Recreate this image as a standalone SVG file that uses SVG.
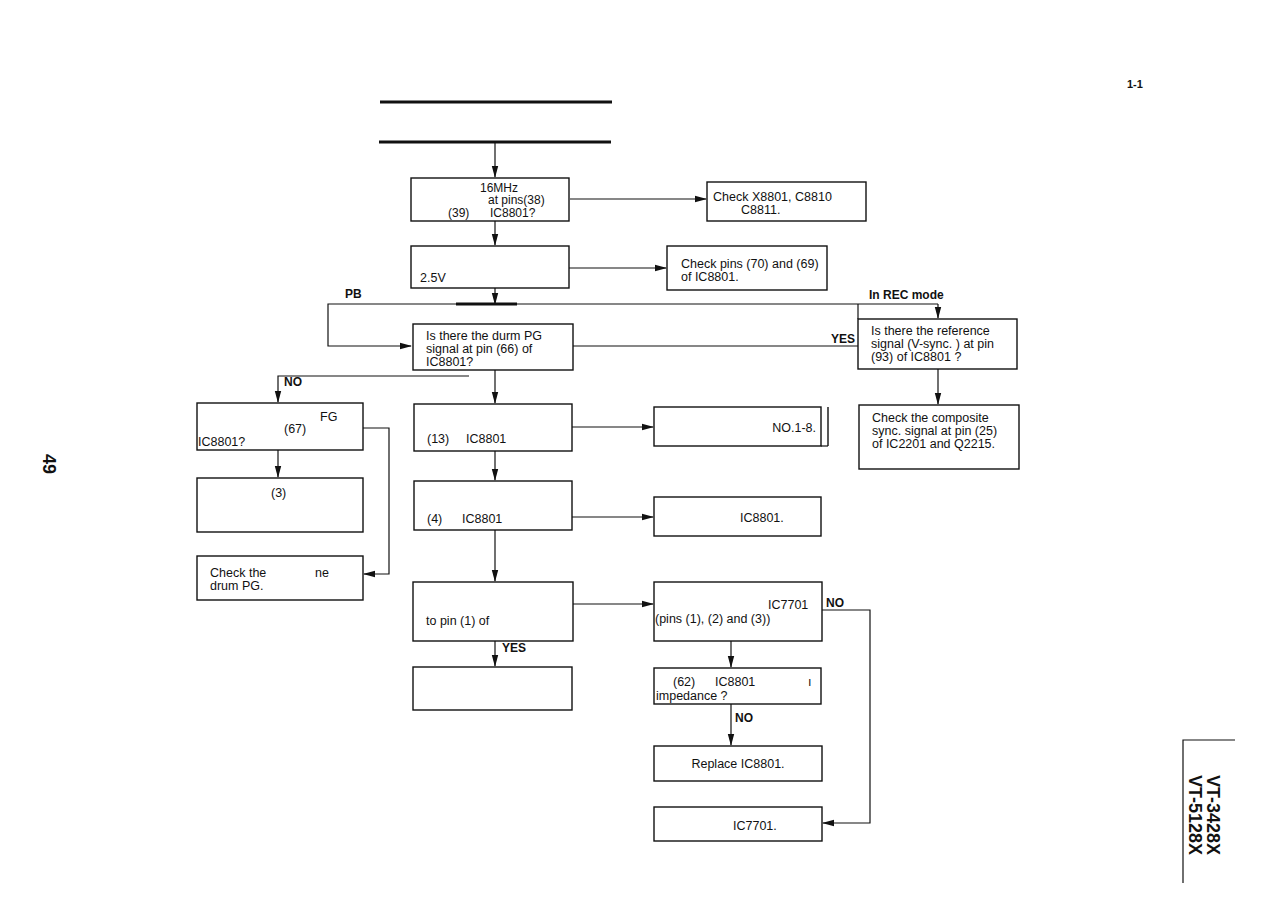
<svg xmlns="http://www.w3.org/2000/svg" width="1275" height="906" viewBox="0 0 1275 906">
<defs>
<marker id="ah" viewBox="0 0 12 8" refX="11" refY="4" markerWidth="12" markerHeight="8" markerUnits="userSpaceOnUse" orient="auto">
<path d="M0,0.8 L12,4 L0,7.2 Z" fill="#111"/>
</marker>
<style>
.bx{fill:#fff;stroke:#111;stroke-width:1.4}
.ln{fill:none;stroke:#111;stroke-width:1.2}
.t{font-family:"Liberation Sans",Arial,sans-serif;font-size:12.5px;fill:#111}
.b{font-family:"Liberation Sans",Arial,sans-serif;font-size:12px;font-weight:bold;fill:#111}
.big{font-family:"Liberation Sans",Arial,sans-serif;font-size:18px;font-weight:bold;fill:#111}
</style>
</defs>
<rect width="1275" height="906" fill="#fff"/>

<g id="title">
<line x1="380" y1="102" x2="612" y2="102" stroke="#111" stroke-width="3"/>
<line x1="379" y1="142" x2="611" y2="142" stroke="#111" stroke-width="3"/>
</g>

<g id="connectors">
<line class="ln" x1="495" y1="143" x2="495" y2="177" marker-end="url(#ah)"/>
<line class="ln" x1="570" y1="199" x2="706" y2="199" marker-end="url(#ah)"/>
<line class="ln" x1="495" y1="221" x2="495" y2="245" marker-end="url(#ah)"/>
<line class="ln" x1="569" y1="268" x2="666" y2="268" stroke-width="2" marker-end="url(#ah)"/>
<line class="ln" x1="495" y1="288" x2="495" y2="304" stroke-width="1.6" marker-end="url(#ah)"/>
<line x1="456" y1="304" x2="517" y2="304" stroke="#111" stroke-width="3"/>
<polyline class="ln" points="938,304 328,304 328,346 411,346" stroke-width="1.6" marker-end="url(#ah)"/>
<line class="ln" x1="938" y1="304" x2="938" y2="318" marker-end="url(#ah)"/>
<line class="ln" x1="858" y1="304" x2="858" y2="319"/>
<line class="ln" x1="573" y1="346" x2="858" y2="346" stroke-width="1.8"/>
<line class="ln" x1="938" y1="369" x2="938" y2="404" marker-end="url(#ah)"/>
<polyline class="ln" points="469,376 278,376 278,402" marker-end="url(#ah)"/>
<line class="ln" x1="495" y1="370" x2="495" y2="403" stroke-width="2" marker-end="url(#ah)"/>
<polyline class="ln" points="363,428 389,428 389,574 364,574" stroke-width="1.6" marker-end="url(#ah)"/>
<line class="ln" x1="278" y1="450" x2="278" y2="477" marker-end="url(#ah)"/>
<line class="ln" x1="572" y1="427" x2="653" y2="427" marker-end="url(#ah)"/>
<line class="ln" x1="495" y1="451" x2="495" y2="480" marker-end="url(#ah)"/>
<line class="ln" x1="572" y1="517" x2="653" y2="517" marker-end="url(#ah)"/>
<line class="ln" x1="495" y1="530" x2="495" y2="581" marker-end="url(#ah)"/>
<line class="ln" x1="573" y1="604" x2="653" y2="604" marker-end="url(#ah)"/>
<polyline class="ln" points="822,610 870,610 870,823 823,823" stroke-width="1.5" marker-end="url(#ah)"/>
<line class="ln" x1="495" y1="641" x2="495" y2="666" marker-end="url(#ah)"/>
<line class="ln" x1="731" y1="641" x2="731" y2="667" marker-end="url(#ah)"/>
<line class="ln" x1="731" y1="704" x2="731" y2="745" marker-end="url(#ah)"/>
</g>

<g id="labels">
<text class="b" x="345" y="298">PB</text>
<text class="b" x="869" y="299">In REC mode</text>
<text class="b" x="831" y="343">YES</text>
<text class="b" x="284" y="386">NO</text>
<text class="b" x="502" y="652">YES</text>
<text class="b" x="826" y="607">NO</text>
<text class="b" x="735" y="722">NO</text>
</g>

<g id="n1">
<rect class="bx" x="411" y="178" width="158" height="43"/>
<text class="t" x="480" y="192" style="font-size:12px">16MHz</text>
<text class="t" x="488" y="204" style="font-size:12px">at pins(38)</text>
<text class="t" x="448" y="217" style="font-size:12px">(39)</text>
<text class="t" x="490" y="217" style="font-size:12px">IC8801?</text>
</g>
<g id="n2">
<rect class="bx" x="707" y="182" width="159" height="39"/>
<text class="t" x="713" y="201">Check X8801,  C8810</text>
<text class="t" x="741" y="214">C8811.</text>
</g>
<g id="n3">
<rect class="bx" x="411" y="246" width="158" height="42"/>
<text class="t" x="420" y="282">2.5V</text>
</g>
<g id="n4">
<rect class="bx" x="667" y="246" width="160" height="44"/>
<text class="t" x="681" y="268">Check pins (70) and (69)</text>
<text class="t" x="681" y="281">of  IC8801.</text>
</g>
<g id="n5">
<rect class="bx" x="413" y="324" width="160" height="46"/>
<text class="t" x="426" y="340">Is there the durm PG</text>
<text class="t" x="426" y="353">signal at pin (66) of</text>
<text class="t" x="426" y="366">IC8801?</text>
</g>
<g id="n6">
<rect class="bx" x="858" y="319" width="159" height="50"/>
<text class="t" x="871" y="335">Is there the reference</text>
<text class="t" x="871" y="348">signal (V-sync. ) at pin</text>
<text class="t" x="871" y="361">(93) of  IC8801 ?</text>
</g>
<g id="n7">
<rect class="bx" x="859" y="405" width="160" height="64"/>
<text class="t" x="872" y="422">Check the composite</text>
<text class="t" x="872" y="435">sync.  signal at pin (25)</text>
<text class="t" x="872" y="448">of IC2201 and Q2215.</text>
</g>
<g id="n8">
<rect class="bx" x="197" y="403" width="166" height="47"/>
<text class="t" x="320" y="421">FG</text>
<text class="t" x="284" y="433">(67)</text>
<text class="t" x="198" y="446">IC8801?</text>
</g>
<g id="n9">
<rect class="bx" x="197" y="478" width="166" height="54"/>
<text class="t" x="271" y="497">(3)</text>
</g>
<g id="n10">
<rect class="bx" x="197" y="556" width="166" height="44"/>
<text class="t" x="210" y="577">Check the</text>
<text class="t" x="315" y="577">ne</text>
<text class="t" x="210" y="590">drum PG.</text>
</g>
<g id="n11">
<rect class="bx" x="414" y="404" width="158" height="47"/>
<text class="t" x="427" y="443">(13)</text>
<text class="t" x="466" y="443">IC8801</text>
</g>
<g id="n12">
<rect class="bx" x="654" y="407" width="167" height="39"/>
<polyline class="ln" points="821,446 828,446"/>
<line x1="828" y1="407" x2="828" y2="446" stroke="#111" stroke-width="1.4"/>
<text class="t" x="816" y="432" text-anchor="end">NO.1-8.</text>
</g>
<g id="n13">
<rect class="bx" x="414" y="481" width="158" height="49"/>
<text class="t" x="427" y="523">(4)</text>
<text class="t" x="462" y="523">IC8801</text>
</g>
<g id="n14">
<rect class="bx" x="654" y="497" width="167" height="39"/>
<text class="t" x="740" y="522">IC8801.</text>
</g>
<g id="n15">
<rect class="bx" x="413" y="582" width="160" height="59"/>
<text class="t" x="426" y="625">to pin (1) of</text>
</g>
<g id="n16">
<rect class="bx" x="654" y="582" width="168" height="59"/>
<text class="t" x="768" y="609">IC7701</text>
<text class="t" x="655" y="623">(pins (1), (2) and (3))</text>
</g>
<g id="n17">
<rect class="bx" x="413" y="667" width="159" height="43"/>
</g>
<g id="n18">
<rect class="bx" x="654" y="668" width="167" height="36"/>
<text class="t" x="673" y="686">(62)</text>
<text class="t" x="715" y="686">IC8801</text>
<text class="t" x="808" y="686">ı</text>
<text class="t" x="656" y="700">impedance ?</text>
</g>
<g id="n19">
<rect class="bx" x="654" y="746" width="168" height="35"/>
<text class="t" x="738" y="768" text-anchor="middle">Replace IC8801.</text>
</g>
<g id="n20">
<rect class="bx" x="654" y="807" width="168" height="34"/>
<text class="t" x="733" y="830">IC7701.</text>
</g>

<g id="page">
<text class="b" x="1127" y="88" style="font-size:11px">1-1</text>
<text class="big" x="43" y="454" transform="rotate(90 43 454)">49</text>
<polyline class="ln" points="1235,740 1183,740 1183,883" stroke-width="1.5"/>
<text class="big" x="1207" y="775" transform="rotate(90 1207 775)">VT-3428X</text>
<text class="big" x="1189" y="775" transform="rotate(90 1189 775)">VT-5128X</text>
</g>
</svg>
